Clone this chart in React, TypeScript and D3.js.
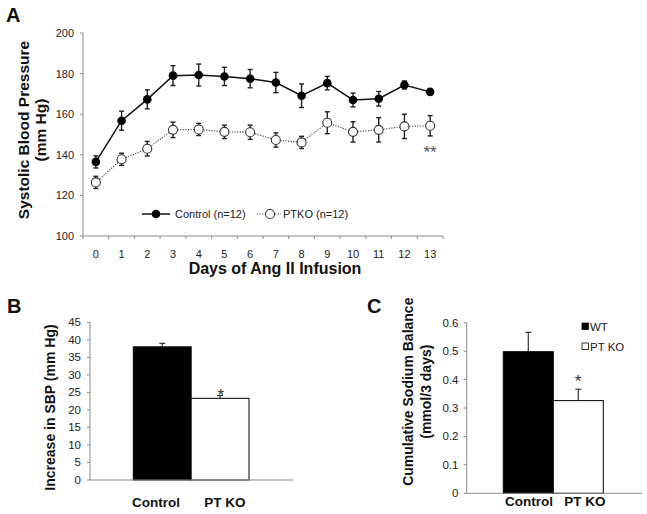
import React from "react";
import * as d3 from "d3";

const days = ["0","1","2","3","4","5","6","7","8","9","10","11","12","13"];
const controlSBP = [136.5, 156.8, 167.3, 179, 179.3, 178.6, 177.5, 175.6, 169.1, 175.3, 167, 167.6, 174.4, 171];
const controlErr = [3, 4.7, 4.7, 4.9, 5.4, 4.5, 4.5, 5, 5.8, 3.3, 3.4, 3.6, 2, 1];
const ptkoSBP = [126.4, 137.8, 143, 152.3, 152.5, 151.3, 151.1, 147.3, 146.1, 155.8, 151.3, 152.3, 154, 154.3];
const ptkoErr = [3, 3, 3.6, 3.8, 3, 3.3, 3.5, 3.5, 3, 5.4, 5, 6, 6, 5];
const aTicks = [100, 120, 140, 160, 180, 200];

const groupsB = ["Control", "PT KO"];
const sbpIncrease = [38.0, 23.3];
const sbpIncreaseErr = [1.0, 0.8];
const bTicks = [0, 5, 10, 15, 20, 25, 30, 35, 40, 45];

const groupsC = ["Control", "PT KO"];
const sodium = [0.498, 0.326];
const sodiumErr = [0.068, 0.04];
const cTicks = [0, 0.1, 0.2, 0.3, 0.4, 0.5, 0.6];
const legendC = ["WT", "PT KO"];

const FONT = "'Liberation Sans', Arial, Helvetica, sans-serif";
const AXIS = "#8a8a8a";
const TXT = "#222";

function PanelA() {
  const x = d3.scaleBand().domain(days).range([83, 443]).padding(0);
  const y = d3.scaleLinear().domain([100, 200]).range([236, 33]);
  const cx = (d: string) => (x(d) as number) + x.bandwidth() / 2;
  const line = d3.line<number>().x((_, i) => cx(days[i])).y((v) => y(v));
  const bounds = days.map((d) => x(d) as number).concat([443]);
  const errBars = (vals: number[], errs: number[], key: string) =>
    vals.map((v, i) => {
      const xc = cx(days[i]);
      return (
        <g key={key + i} stroke="#222" strokeWidth={1.4}>
          <line x1={xc} x2={xc} y1={y(v - errs[i])} y2={y(v + errs[i])} />
          <line x1={xc - 2.5} x2={xc + 2.5} y1={y(v + errs[i])} y2={y(v + errs[i])} />
          <line x1={xc - 2.5} x2={xc + 2.5} y1={y(v - errs[i])} y2={y(v - errs[i])} />
        </g>
      );
    });
  return (
    <g>
      <text x={6} y={22} fontSize={20} fontWeight="bold" fill="#111">A</text>
      {/* y axis */}
      <line x1={83} x2={83} y1={y(200)} y2={y(100)} stroke={AXIS} />
      {aTicks.map((t) => (
        <g key={"ya" + t}>
          <line x1={80} x2={83} y1={y(t)} y2={y(t)} stroke={AXIS} />
          <text x={74} y={y(t) + 4} textAnchor="end" fontSize={11} fill={TXT}>{t}</text>
        </g>
      ))}
      {/* x axis */}
      <line x1={83} x2={443} y1={y(100)} y2={y(100)} stroke={AXIS} />
      {bounds.map((b, i) => (
        <line key={"xb" + i} x1={b} x2={b} y1={y(100)} y2={y(100) + 3} stroke={AXIS} />
      ))}
      {days.map((d) => (
        <text key={"xl" + d} x={cx(d)} y={258} textAnchor="middle" fontSize={11} fill={TXT}>{d}</text>
      ))}
      <text x={275} y={273.5} textAnchor="middle" fontSize={16} fontWeight="bold" fill="#111">Days of Ang II Infusion</text>
      <text transform="translate(29,130) rotate(-90)" textAnchor="middle" fontSize={15.5} fontWeight="bold" fill="#111">Systolic Blood Pressure</text>
      <text transform="translate(46,130) rotate(-90)" textAnchor="middle" fontSize={15.5} fontWeight="bold" fill="#111">(mm Hg)</text>
      {/* series */}
      <path d={line(ptkoSBP) || ""} fill="none" stroke="#444" strokeWidth={1.1} strokeDasharray="1.2,1.4" />
      <path d={line(controlSBP) || ""} fill="none" stroke="#111" strokeWidth={1.5} />
      {errBars(controlSBP, controlErr, "ce")}
      {errBars(ptkoSBP, ptkoErr, "pe")}
      {controlSBP.map((v, i) => (
        <circle key={"cc" + i} cx={cx(days[i])} cy={y(v)} r={4.3} fill="#000" />
      ))}
      {ptkoSBP.map((v, i) => (
        <circle key={"pc" + i} cx={cx(days[i])} cy={y(v)} r={4.5} fill="#fff" stroke="#333" strokeWidth={1.1} />
      ))}
      <text x={430} y={158} textAnchor="middle" fontSize={17} fill="#555">**</text>
      {/* legend */}
      <line x1={142} x2={170} y1={214} y2={214} stroke="#111" strokeWidth={1.5} />
      <circle cx={156} cy={214} r={4.3} fill="#000" />
      <text x={175} y={218} fontSize={11} fill={TXT}>Control (n=12)</text>
      <line x1={257} x2={281} y1={214} y2={214} stroke="#444" strokeWidth={1.1} strokeDasharray="1.2,1.4" />
      <circle cx={270} cy={214} r={4.5} fill="#fff" stroke="#333" strokeWidth={1.1} />
      <text x={283} y={218} fontSize={11} fill={TXT}>PTKO (n=12)</text>
    </g>
  );
}

function PanelB() {
  const y = d3.scaleLinear().domain([0, 45]).range([480, 322.3]);
  const x = d3.scaleBand().domain(groupsB).range([133.3, 249]).padding(0);
  const fills = ["#000", "#fff"];
  const labelX = [156, 225];
  return (
    <g>
      <text x={7} y={313} fontSize={20} fontWeight="bold" fill="#111">B</text>
      <line x1={90} x2={90} y1={y(45)} y2={y(0)} stroke={AXIS} />
      {bTicks.map((t) => (
        <g key={"yb" + t}>
          <line x1={87} x2={90} y1={y(t)} y2={y(t)} stroke={AXIS} />
          <text x={81} y={y(t) + 4} textAnchor="end" fontSize={11.5} fill={TXT}>{t}</text>
        </g>
      ))}
      {groupsB.map((g, i) => {
        const bx = x(g) as number;
        const xc = bx + x.bandwidth() / 2;
        return (
          <g key={"bb" + g}>
            <line x1={xc} x2={xc} y1={y(sbpIncrease[i])} y2={y(sbpIncrease[i] + sbpIncreaseErr[i])} stroke="#333" strokeWidth={1.2} />
            <line x1={xc - 3} x2={xc + 3} y1={y(sbpIncrease[i] + sbpIncreaseErr[i])} y2={y(sbpIncrease[i] + sbpIncreaseErr[i])} stroke="#333" strokeWidth={1.2} />
            <rect x={bx} y={y(sbpIncrease[i])} width={x.bandwidth()} height={y(0) - y(sbpIncrease[i])} fill={fills[i]} stroke="#000" strokeWidth={1} />
            <text x={labelX[i]} y={507} textAnchor="middle" fontSize={13.5} fontWeight="bold" fill="#111">{g}</text>
          </g>
        );
      })}
      <line x1={90} x2={293} y1={y(0)} y2={y(0)} stroke={AXIS} />
      <text x={220.7} y={400.5} textAnchor="middle" fontSize={17} fill="#333">*</text>
      <text transform="translate(54.5,407.5) rotate(-90)" textAnchor="middle" fontSize={14} fontWeight="bold" fill="#111">Increase in SBP (mm Hg)</text>
    </g>
  );
}

function PanelC() {
  const y = d3.scaleLinear().domain([0, 0.6]).range([493.3, 322.7]);
  const x = d3.scaleBand().domain(groupsC).range([503.3, 603.3]).padding(0);
  const fills = ["#000", "#fff"];
  const labelX = [529, 585];
  const fmt = d3.format("");
  return (
    <g>
      <text x={367} y={313} fontSize={20} fontWeight="bold" fill="#111">C</text>
      <line x1={466.7} x2={466.7} y1={y(0.6)} y2={y(0)} stroke={AXIS} />
      {cTicks.map((t) => (
        <g key={"yc" + t}>
          <line x1={463.7} x2={466.7} y1={y(t)} y2={y(t)} stroke={AXIS} />
          <text x={458.5} y={y(t) + 4} textAnchor="end" fontSize={11.5} fill={TXT}>{fmt(+t.toFixed(1))}</text>
        </g>
      ))}
      {groupsC.map((g, i) => {
        const bx = x(g) as number;
        const xc = bx + x.bandwidth() / 2;
        return (
          <g key={"cb" + g}>
            <line x1={xc} x2={xc} y1={y(sodium[i])} y2={y(sodium[i] + sodiumErr[i])} stroke="#333" strokeWidth={1.2} />
            <line x1={xc - 3} x2={xc + 3} y1={y(sodium[i] + sodiumErr[i])} y2={y(sodium[i] + sodiumErr[i])} stroke="#333" strokeWidth={1.2} />
            <rect x={bx} y={y(sodium[i])} width={x.bandwidth()} height={y(0) - y(sodium[i])} fill={fills[i]} stroke="#000" strokeWidth={1} />
            <text x={labelX[i]} y={506} textAnchor="middle" fontSize={13.5} fontWeight="bold" fill="#111">{g}</text>
          </g>
        );
      })}
      <line x1={466.7} x2={642} y1={y(0)} y2={y(0)} stroke={AXIS} />
      <text x={578} y={387} textAnchor="middle" fontSize={17} fill="#333">*</text>
      <text transform="translate(413,391.7) rotate(-90)" textAnchor="middle" fontSize={14} fontWeight="bold" fill="#111">Cumulative Sodium Balance</text>
      <text transform="translate(431,391.7) rotate(-90)" textAnchor="middle" fontSize={14} fontWeight="bold" fill="#111">(mmol/3 days)</text>
      {legendC.map((l, i) => (
        <g key={"lc" + l}>
          <rect x={582} y={323 + i * 20} width={6.5} height={6.5} fill={fills[i]} stroke="#000" strokeWidth={0.8} />
          <text x={590} y={331 + i * 20} fontSize={11.5} fill={TXT}>{l}</text>
        </g>
      ))}
    </g>
  );
}

export default function App() {
  return (
    <svg width={647} height={514} style={{ position: "absolute", left: 0, top: 0, background: "#fff" }} fontFamily={FONT}>
      <rect x={0} y={0} width={647} height={514} fill="#fff" />
      <PanelA />
      <PanelB />
      <PanelC />
    </svg>
  );
}
